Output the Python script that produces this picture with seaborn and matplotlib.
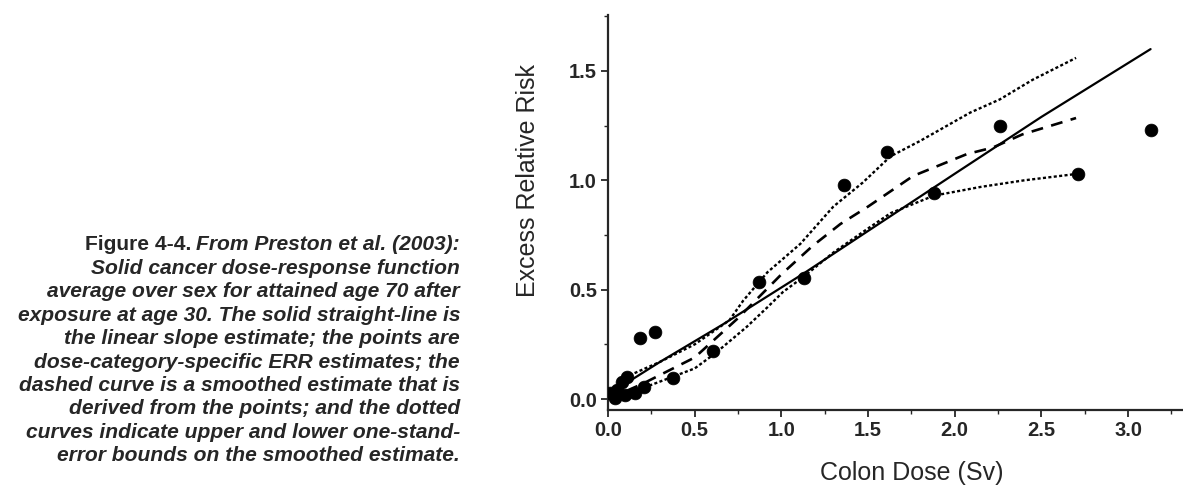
import matplotlib
matplotlib.use("Agg")
import matplotlib.pyplot as plt
import seaborn as sns
from matplotlib.ticker import MultipleLocator

# dose-category-specific ERR estimates (points)
dose_pts = [0.01, 0.04, 0.05, 0.08, 0.10, 0.11, 0.155, 0.21, 0.185, 0.27,
            0.375, 0.605, 0.87, 1.13, 1.36, 1.61, 1.88, 2.26, 2.71, 3.13]
err_pts = [0.03, 0.005, 0.04, 0.08, 0.02, 0.10, 0.03, 0.055, 0.28, 0.305,
           0.095, 0.22, 0.535, 0.555, 0.98, 1.13, 0.94, 1.25, 1.03, 1.23]

# linear slope estimate (solid)
lin_x = [0.0, 0.3, 0.66, 1.13, 2.0, 2.5, 3.13]
lin_y = [0.02, 0.17, 0.34, 0.575, 1.03, 1.29, 1.60]

# smoothed estimate (dashed)
smooth_x = [0.0, 0.2, 0.5, 0.75, 1.0, 1.18, 1.34, 1.5, 1.76, 2.07, 2.22, 2.39, 2.70]
smooth_y = [0.0, 0.07, 0.19, 0.37, 0.57, 0.70, 0.80, 0.88, 1.02, 1.12, 1.15, 1.21, 1.285]

# upper / lower one-standard-error bounds (dotted)
upper_x = [0.0, 0.1, 0.3, 0.5, 0.7, 0.78, 0.92, 1.11, 1.3, 1.47, 1.63, 1.8, 2.09, 2.26, 2.45, 2.70]
upper_y = [0.0, 0.10, 0.17, 0.25, 0.36, 0.45, 0.58, 0.71, 0.88, 0.99, 1.11, 1.18, 1.31, 1.37, 1.46, 1.56]
lower_x = [0.0, 0.2, 0.5, 0.62, 0.8, 0.92, 1.01, 1.13, 1.3, 1.5, 1.63, 1.88, 2.15, 2.4, 2.71]
lower_y = [0.0, 0.05, 0.14, 0.21, 0.33, 0.42, 0.49, 0.56, 0.67, 0.78, 0.85, 0.93, 0.97, 1.0, 1.03]

caption_lines = [
    "From Preston et al. (2003):",
    "Solid cancer dose-response function",
    "average over sex for attained age 70 after",
    "exposure at age 30. The solid straight-line is",
    "the linear slope estimate; the points are",
    "dose-category-specific ERR estimates; the",
    "dashed curve is a smoothed estimate that is",
    "derived from the points; and the dotted",
    "curves indicate upper and lower one-stand-",
    "error bounds on the smoothed estimate.",
]

sns.set_style("ticks")
plt.rcParams['font.family'] = ['Liberation Sans', 'DejaVu Sans']

W, H = 1183, 487
fig = plt.figure(figsize=(W / 100, H / 100), dpi=100)
ax = fig.add_axes([608 / W, 1 - 410 / H, (W - 608) / W, (410 - 15) / H])

sns.lineplot(x=lin_x, y=lin_y, ax=ax, color="black", lw=1.6,
             estimator=None, sort=False)
sns.lineplot(x=smooth_x, y=smooth_y, ax=ax, color="black", lw=1.9,
             estimator=None, sort=False, linestyle=(0, (4.5, 3.2)))
for xs, ys in [(upper_x, upper_y), (lower_x, lower_y)]:
    sns.lineplot(x=xs, y=ys, ax=ax, color="black", lw=1.7,
                 estimator=None, sort=False, linestyle=(0, (1.3, 1.0)))
sns.scatterplot(x=dose_pts, y=err_pts, ax=ax, color="black", s=85,
                edgecolor="black", linewidth=0.5, zorder=5)

ax.set_xlim(0, 3.317)
ax.set_ylim(-0.05, 1.756)
ax.xaxis.set_major_locator(MultipleLocator(0.5))
ax.xaxis.set_minor_locator(MultipleLocator(0.25))
ax.yaxis.set_major_locator(MultipleLocator(0.5))
ax.yaxis.set_minor_locator(MultipleLocator(0.25))
ax.tick_params(which="major", length=5, width=1.3, labelsize=14.5, pad=3)
ax.tick_params(which="minor", length=3, width=1.0)
for lab in ax.get_xticklabels() + ax.get_yticklabels():
    lab.set_fontweight("bold")
for s in ["left", "bottom"]:
    ax.spines[s].set_linewidth(1.6)
sns.despine(ax=ax)

ax.set_xlabel("Colon Dose (Sv)", fontsize=18, va="center")
ax.xaxis.set_label_coords(0.529, -0.16)
ax.set_ylabel("Excess Relative Risk", fontsize=18, va="center")
ax.yaxis.set_label_coords(-0.139, 0.582)

# caption, right aligned at x=460 px
right = 460 / W
renderer = fig.canvas.get_renderer()
for i, line in enumerate(caption_lines):
    yc = 1 - (245 + i * 23.4) / H
    t = fig.text(right, yc, line, ha="right", va="center", fontsize=15.1,
                 fontweight="bold", fontstyle="italic")
    if i == 0:
        bb = t.get_window_extent(renderer=renderer)
        fig.text(bb.x0 / W - 5 / W, yc, "Figure 4-4.", ha="right", va="center",
                 fontsize=15.1, fontweight="bold")

fig.savefig("out.png", dpi=100)
